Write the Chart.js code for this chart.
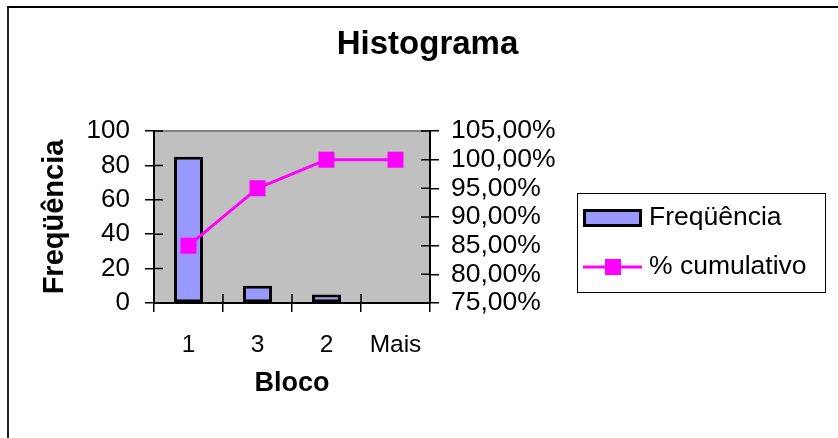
<!DOCTYPE html>
<html>
<head>
<meta charset="utf-8">
<title>Histograma</title>
<script src="https://cdn.jsdelivr.net/npm/chart.js@4.4.0/dist/chart.umd.min.js"></script>
<style>
  html, body { margin: 0; padding: 0; background: #fff; overflow: hidden; }
  #wrap { position: relative; width: 838px; height: 438px; overflow: hidden; }
  /* outer chart frame, right and bottom edges fall outside the window */
  #frame { position: absolute; left: 7px; top: 6px; width: 1200px; height: 800px;
           border-top: 2px solid #000; border-left: 2px solid #222; }
  #chart { position: absolute; left: 0; top: 0; }
</style>
</head>
<body>
<div id="wrap">
  <div id="frame"></div>
  <canvas id="chart" width="838" height="438"></canvas>
</div>
<script>
"use strict";

// data
const categories = ['1', '3', '2', 'Mais'];
const frequencia = [85, 10, 5, 0];
const cumulativo = [85, 95, 100, 100];   // percent
const freqRange = [0, 100, 20];          // min, max, step
const pctRange = [75, 105, 5];

const BAR_FILL = '#9999FF';
const LINE_COLOR = '#FF00FF';

Chart.defaults.font.family = '"Liberation Sans", Arial, sans-serif';
Chart.defaults.color = '#000';

// gray plot area with a thin gray frame
const plotBackground = {
    id: 'plotBackground',
    beforeDraw(chart) {
        const {ctx, chartArea: a} = chart;
        ctx.save();
        ctx.fillStyle = '#C0C0C0';
        ctx.fillRect(a.left, a.top, a.right - a.left, a.bottom - a.top);
        ctx.strokeStyle = '#808080';
        ctx.lineWidth = 2;
        ctx.strokeRect(a.left, a.top, a.right - a.left, a.bottom - a.top);
        ctx.restore();
    },
};

// Excel style ticks cross the axis: draw the inner half here
const crossTicks = {
    id: 'crossTicks',
    afterDraw(chart) {
        const {ctx, chartArea: a, scales} = chart;
        const len = 9;
        ctx.save();
        ctx.strokeStyle = '#000';
        ctx.lineWidth = 1.5;
        ctx.beginPath();
        scales.y.ticks.forEach((t) => {
            const y = scales.y.getPixelForValue(t.value);
            ctx.moveTo(a.left, y);
            ctx.lineTo(a.left + len, y);
        });
        scales.y2.ticks.forEach((t) => {
            const y = scales.y2.getPixelForValue(t.value);
            ctx.moveTo(a.right - len, y);
            ctx.lineTo(a.right, y);
        });
        for (let i = 0; i <= categories.length; i++) {
            const x = scales.x.getPixelForValue(i - 0.5);
            ctx.moveTo(x, a.bottom - len);
            ctx.lineTo(x, a.bottom);
        }
        ctx.stroke();
        ctx.restore();
    },
};

// boxed legend to the right of the plot
const boxedLegend = {
    id: 'boxedLegend',
    afterDraw(chart) {
        const ctx = chart.ctx;
        const [bars, line] = chart.data.datasets;
        ctx.save();
        ctx.strokeStyle = '#000';
        ctx.lineWidth = 1;
        ctx.strokeRect(577.5, 193.5, 248, 99);

        ctx.fillStyle = bars.backgroundColor;
        ctx.fillRect(583, 209, 59, 18);
        ctx.strokeStyle = bars.borderColor;
        ctx.lineWidth = 3;
        ctx.strokeRect(584.5, 210.5, 56, 15);

        ctx.strokeStyle = line.borderColor;
        ctx.lineWidth = 3;
        ctx.beginPath();
        ctx.moveTo(583, 267);
        ctx.lineTo(642, 267);
        ctx.stroke();
        ctx.fillStyle = line.pointBackgroundColor;
        ctx.fillRect(605, 259, 16, 16);

        ctx.fillStyle = '#000';
        ctx.font = '26.5px "Liberation Sans", Arial, sans-serif';
        ctx.textBaseline = 'middle';
        ctx.fillText(bars.label, 649, 218);
        ctx.fillText(line.label, 649, 267);
        ctx.restore();
    },
};

new Chart(document.getElementById('chart'), {
    type: 'bar',
    data: {
        labels: categories,
        datasets: [{
            label: 'Freqüência',
            data: frequencia,
            yAxisID: 'y',
            backgroundColor: BAR_FILL,
            borderColor: '#000',
            borderWidth: 3,
            borderSkipped: false,
            categoryPercentage: 1,
            barPercentage: 0.42,
            order: 1,
        }, {
            type: 'line',
            label: '% cumulativo',
            data: cumulativo,
            yAxisID: 'y2',
            borderColor: LINE_COLOR,
            borderWidth: 3,
            pointStyle: 'rect',
            pointRadius: 11.3,
            pointBackgroundColor: LINE_COLOR,
            pointBorderWidth: 0,
            tension: 0,
            order: 0,
        }],
    },
    options: {
        responsive: false,
        animation: false,
        layout: {padding: {left: 17, right: 0, top: 0, bottom: 0}},
        plugins: {
            legend: {display: false},
            tooltip: {enabled: false},
            title: {
                display: true,
                text: 'Histograma',
                color: '#000',
                font: {size: 33, weight: 'bold'},
                padding: {top: 25, bottom: 66.4},
            },
        },
        scales: {
            x: {
                grid: {offset: true, drawOnChartArea: false, tickLength: 9, color: '#000', lineWidth: 1.5},
                border: {color: '#000', width: 2},
                ticks: {font: {size: 24.5}, color: '#000', padding: 19, maxRotation: 0, autoSkip: false},
                title: {
                    display: true,
                    text: 'Bloco',
                    color: '#000',
                    font: {size: 27, weight: 'bold'},
                    padding: {top: 0, bottom: 38},
                },
                afterFit: (s) => { s.height = 135; },
            },
            y: {
                position: 'left',
                min: freqRange[0],
                max: freqRange[1],
                grid: {drawOnChartArea: false, tickLength: 9, color: '#000', lineWidth: 1.5},
                border: {color: '#000', width: 2},
                ticks: {stepSize: freqRange[2], font: {size: 26}, color: '#000', padding: 15, autoSkip: false},
                title: {
                    display: true,
                    text: 'Freqüência',
                    color: '#000',
                    font: {size: 29, weight: 'bold'},
                    padding: {top: 21, bottom: 0},
                },
                afterFit: (s) => { s.width = 137; },
            },
            y2: {
                position: 'right',
                min: pctRange[0],
                max: pctRange[1],
                grid: {drawOnChartArea: false, tickLength: 9, color: '#000', lineWidth: 1.5},
                border: {color: '#000', width: 2},
                ticks: {
                    stepSize: pctRange[2],
                    font: {size: 26.5},
                    color: '#000',
                    padding: 12,
                    autoSkip: false,
                    callback: (v) => v.toFixed(2).replace('.', ',') + '%',
                },
                afterFit: (s) => { s.width = 408; },
            },
        },
    },
    plugins: [plotBackground, crossTicks, boxedLegend],
});
</script>
</body>
</html>
